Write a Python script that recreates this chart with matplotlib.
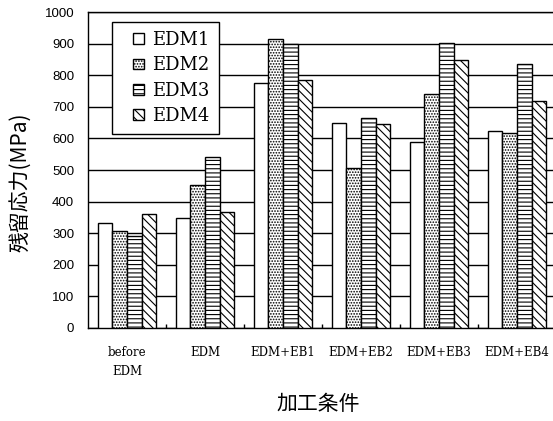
import matplotlib
matplotlib.use("Agg")
import matplotlib.pyplot as plt
from matplotlib.legend_handler import HandlerPatch
from matplotlib.patches import Rectangle
import numpy as np

# residual stress (MPa) for each machining condition
conditions = ["before\nEDM", "EDM", "EDM+EB1", "EDM+EB2", "EDM+EB3", "EDM+EB4"]
series_names = ["EDM1", "EDM2", "EDM3", "EDM4"]
edm1 = [333, 349, 774, 650, 588, 624]
edm2 = [308, 452, 916, 505, 740, 616]
edm3 = [292, 540, 898, 665, 903, 834]
edm4 = [362, 366, 785, 645, 848, 719]
yticks = [0, 100, 200, 300, 400, 500, 600, 700, 800, 900, 1000]

plt.rcParams['hatch.linewidth'] = 0.8


def square_handle(legend, orig_handle, xdescent, ydescent, width, height, fontsize):
    # small square pushed to the right end of the handle box
    return Rectangle((-xdescent + width - height, -ydescent), height, height)


fig = plt.figure(figsize=(5.53, 4.21), dpi=100)
ax = fig.add_axes([88 / 553, 93 / 421, 468 / 553, 316 / 421])

x = np.arange(len(conditions))
w = 0.186
hatches = ["", "......", "----", "\\\\\\\\"]
bars = []
for i, (name, vals) in enumerate(zip(series_names, [edm1, edm2, edm3, edm4])):
    b = ax.bar(x + (i - 1.5) * w, vals, width=w, facecolor="white",
               edgecolor="black", linewidth=1.0, hatch=hatches[i], label=name,
               zorder=3)
    bars.append(b)

ax.set_xlim(-0.5, len(conditions) - 0.5)
ax.set_ylim(0, 1000)
ax.set_yticks(yticks)
ax.yaxis.grid(True, color="black", linewidth=1.0)
ax.set_axisbelow(True)

for s in ax.spines.values():
    s.set_color("black")
    s.set_linewidth(1.0)

ax.tick_params(axis="y", length=0, pad=10)
for lab in ax.get_yticklabels():
    lab.set_fontfamily("Liberation Sans")
    lab.set_fontsize(9.5)

ax.set_xticks(x)
ax.set_xticklabels(conditions, fontfamily="DejaVu Serif", fontsize=8.5,
                   linespacing=1.6)
ax.set_xticks(x[:-1] + 0.5, minor=True)
ax.tick_params(axis="x", which="major", length=0, pad=13)
ax.tick_params(axis="x", which="minor", direction="in", length=3, width=1)

leg = ax.legend([b.patches[0] for b in bars], series_names,
                loc="upper left", bbox_to_anchor=(0.051, 0.968),
                prop={"family": "DejaVu Serif", "size": 13},
                handler_map={Rectangle: HandlerPatch(patch_func=square_handle)},
                handlelength=1.3, handleheight=0.55, handletextpad=0.45,
                labelspacing=0.4, borderpad=0.5, borderaxespad=0,
                fancybox=False, framealpha=1, edgecolor="black")
leg.get_frame().set_linewidth(1.0)

fig.text(20 / 553, 1 - 182 / 421, "残留応力(MPa)", rotation=90,
         ha="center", va="center", fontsize=15,
         family=["Noto Sans CJK JP", "DejaVu Sans"])
fig.text(318 / 553, 1 - 404 / 421, "加工条件", ha="center", va="center",
         fontsize=15, family=["Noto Sans CJK JP", "DejaVu Sans"])

fig.savefig("out.png", dpi=100)
